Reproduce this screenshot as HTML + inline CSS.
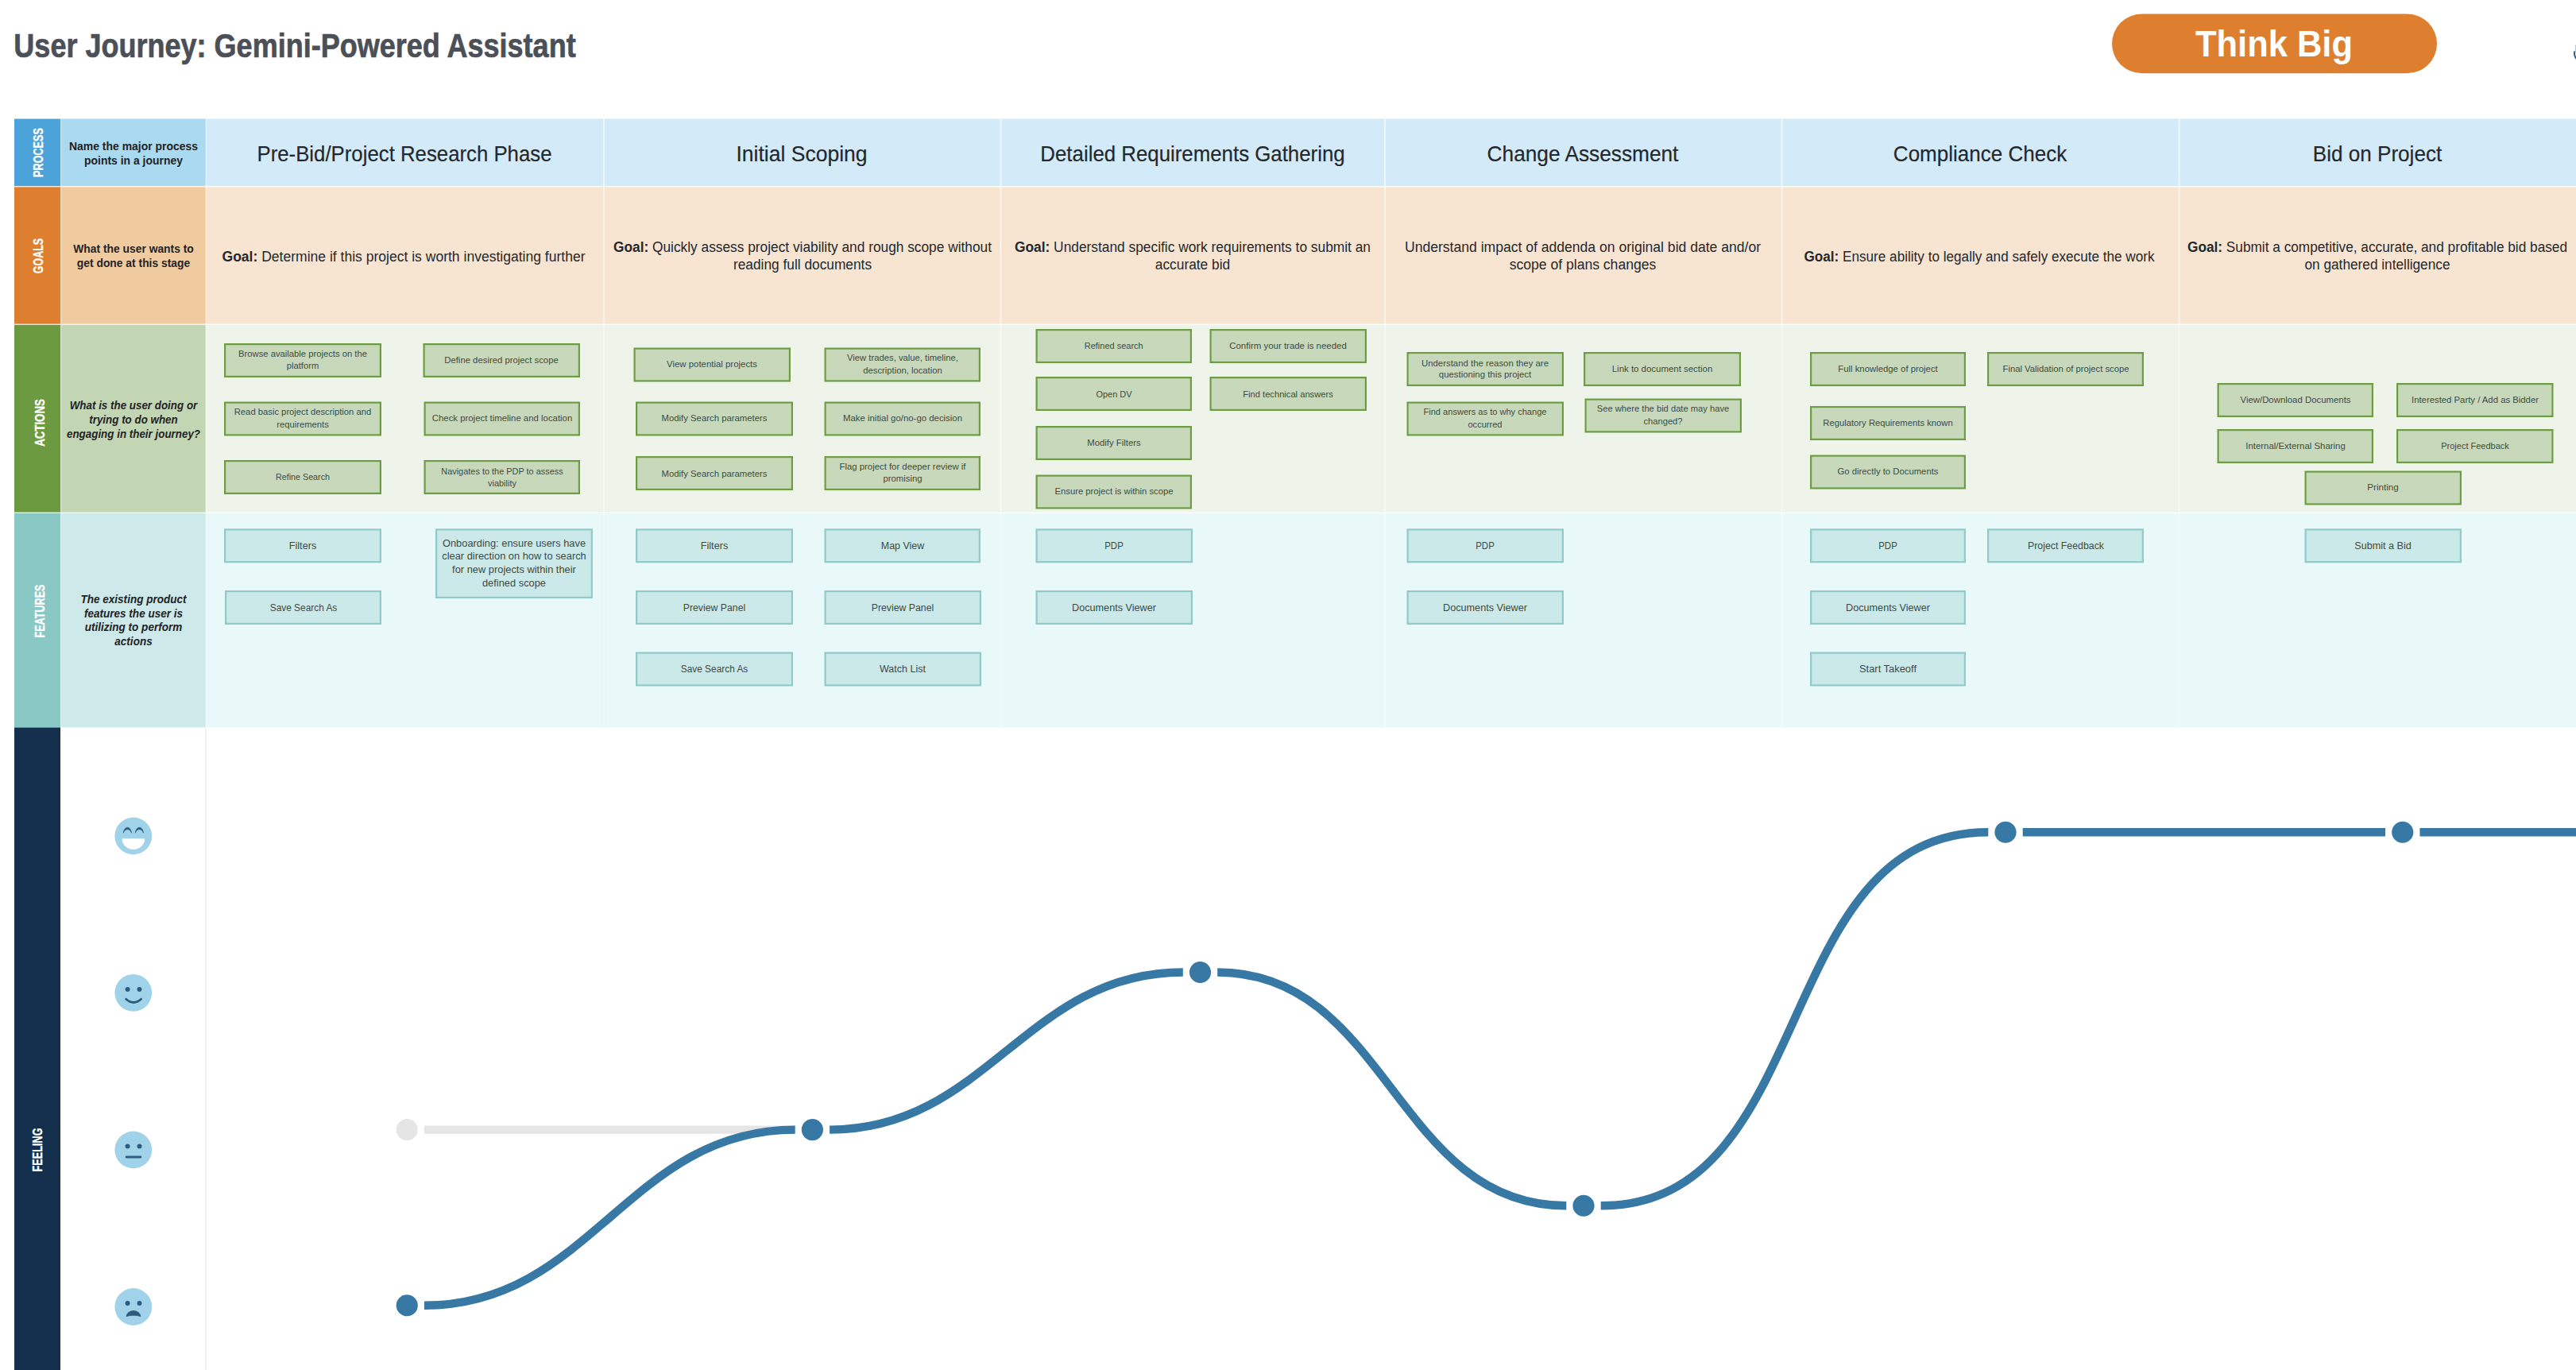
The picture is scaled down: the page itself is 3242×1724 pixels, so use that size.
<!DOCTYPE html>
<html lang="en"><head><meta charset="utf-8"><title>User Journey: Gemini-Powered Assistant</title>
<style>
html,body{margin:0;padding:0;background:#fff}
body{width:3242px;height:1724px;position:relative;overflow:hidden;font-family:"Liberation Sans",sans-serif;color:#222}
.t{position:absolute;white-space:nowrap;text-align:center;transform-origin:50% 50%;font-family:"Liberation Sans",sans-serif}
.t span{display:block}
.title{font-weight:700;color:#4B5058;-webkit-text-stroke:0.7px #4B5058}
.pill{font-weight:700;color:#fff}
.lab{font-weight:700;color:#fff;-webkit-text-stroke:0.35px #fff}
.desc{font-weight:700;color:#1f2326}
.it{font-style:italic}
.ph{color:#24282c;-webkit-text-stroke:0.2px #24282c}
.goal{color:#24282c}
.goal b{font-weight:700}
.bx{color:#3f4a44}
svg{position:absolute;left:0;top:0}
</style></head><body>

<svg width="3242" height="1724" viewBox="0 0 3242 1724">
<rect x="18" y="149.5" width="58" height="85" fill="#4BA3DA"/>
<rect x="76" y="149.5" width="183" height="85" fill="#AADAF0"/>
<rect x="259" y="149.5" width="2983" height="85" fill="#D3EBF8"/>
<rect x="18" y="234.5" width="58" height="173.5" fill="#DE7F30"/>
<rect x="76" y="234.5" width="183" height="173.5" fill="#F1CBA0"/>
<rect x="259" y="234.5" width="2983" height="173.5" fill="#F7E5D2"/>
<rect x="18" y="408" width="58" height="237" fill="#6B9A40"/>
<rect x="76" y="408" width="183" height="237" fill="#C3D6B3"/>
<rect x="259" y="408" width="2983" height="237" fill="#EFF4EB"/>
<rect x="18" y="645" width="58" height="270.5" fill="#8AC8C6"/>
<rect x="76" y="645" width="183" height="270.5" fill="#CDE9E9"/>
<rect x="259" y="645" width="2983" height="270.5" fill="#E9F9FA"/>
<rect x="18" y="915.5" width="58" height="808.5" fill="#132F4B"/>
<rect x="759" y="149.5" width="2" height="85" fill="#fff" fill-opacity="0.62"/>
<rect x="759" y="234.5" width="2" height="173.5" fill="#fff" fill-opacity="0.62"/>
<rect x="759" y="408" width="2" height="237" fill="#fff" fill-opacity="0.42"/>
<rect x="759" y="645" width="2" height="270.5" fill="#fff" fill-opacity="0.32"/>
<rect x="1258.5" y="149.5" width="2" height="85" fill="#fff" fill-opacity="0.62"/>
<rect x="1258.5" y="234.5" width="2" height="173.5" fill="#fff" fill-opacity="0.62"/>
<rect x="1258.5" y="408" width="2" height="237" fill="#fff" fill-opacity="0.42"/>
<rect x="1258.5" y="645" width="2" height="270.5" fill="#fff" fill-opacity="0.32"/>
<rect x="1742" y="149.5" width="2" height="85" fill="#fff" fill-opacity="0.62"/>
<rect x="1742" y="234.5" width="2" height="173.5" fill="#fff" fill-opacity="0.62"/>
<rect x="1742" y="408" width="2" height="237" fill="#fff" fill-opacity="0.42"/>
<rect x="1742" y="645" width="2" height="270.5" fill="#fff" fill-opacity="0.32"/>
<rect x="2241.5" y="149.5" width="2" height="85" fill="#fff" fill-opacity="0.62"/>
<rect x="2241.5" y="234.5" width="2" height="173.5" fill="#fff" fill-opacity="0.62"/>
<rect x="2241.5" y="408" width="2" height="237" fill="#fff" fill-opacity="0.42"/>
<rect x="2241.5" y="645" width="2" height="270.5" fill="#fff" fill-opacity="0.32"/>
<rect x="2741.5" y="149.5" width="2" height="85" fill="#fff" fill-opacity="0.62"/>
<rect x="2741.5" y="234.5" width="2" height="173.5" fill="#fff" fill-opacity="0.62"/>
<rect x="2741.5" y="408" width="2" height="237" fill="#fff" fill-opacity="0.42"/>
<rect x="2741.5" y="645" width="2" height="270.5" fill="#fff" fill-opacity="0.32"/>
<rect x="258.5" y="149.5" width="1.5" height="766" fill="#fff" fill-opacity=".5"/>
<rect x="76" y="149.5" width="1.3" height="766" fill="#fff" fill-opacity=".35"/>
<rect x="18" y="234" width="3224" height="1.5" fill="#fff" fill-opacity=".75"/>
<rect x="18" y="407.5" width="3224" height="1.5" fill="#fff" fill-opacity=".75"/>
<rect x="18" y="644.5" width="3224" height="1.5" fill="#fff" fill-opacity=".75"/>
<rect x="258" y="916.5" width="2" height="808.5" fill="#F1F1F1"/>
<rect x="2658" y="17.6" width="409" height="74.6" rx="37.3" fill="#DE7F30"/>
<rect x="283.1" y="433.1" width="195.8" height="40.8" fill="#C7D9BA" stroke="#6D9E43" stroke-width="2.2"/>
<rect x="533.6" y="433.1" width="195.3" height="40.8" fill="#C7D9BA" stroke="#6D9E43" stroke-width="2.2"/>
<rect x="283.1" y="506.6" width="195.8" height="40.8" fill="#C7D9BA" stroke="#6D9E43" stroke-width="2.2"/>
<rect x="534.6" y="506.6" width="194.3" height="40.8" fill="#C7D9BA" stroke="#6D9E43" stroke-width="2.2"/>
<rect x="283.1" y="580.1" width="195.8" height="40.8" fill="#C7D9BA" stroke="#6D9E43" stroke-width="2.2"/>
<rect x="534.6" y="580.1" width="194.3" height="40.8" fill="#C7D9BA" stroke="#6D9E43" stroke-width="2.2"/>
<rect x="798.6" y="438.6" width="195.3" height="40.8" fill="#C7D9BA" stroke="#6D9E43" stroke-width="2.2"/>
<rect x="1038.6" y="438.6" width="194.3" height="40.8" fill="#C7D9BA" stroke="#6D9E43" stroke-width="2.2"/>
<rect x="801.1" y="506.6" width="195.8" height="40.8" fill="#C7D9BA" stroke="#6D9E43" stroke-width="2.2"/>
<rect x="1038.6" y="506.6" width="194.3" height="40.8" fill="#C7D9BA" stroke="#6D9E43" stroke-width="2.2"/>
<rect x="801.1" y="575.1" width="195.8" height="40.8" fill="#C7D9BA" stroke="#6D9E43" stroke-width="2.2"/>
<rect x="1038.6" y="575.1" width="194.3" height="40.8" fill="#C7D9BA" stroke="#6D9E43" stroke-width="2.2"/>
<rect x="1304.6" y="415.1" width="194.3" height="40.8" fill="#C7D9BA" stroke="#6D9E43" stroke-width="2.2"/>
<rect x="1523.6" y="415.1" width="195.3" height="40.8" fill="#C7D9BA" stroke="#6D9E43" stroke-width="2.2"/>
<rect x="1304.6" y="475.1" width="194.3" height="40.8" fill="#C7D9BA" stroke="#6D9E43" stroke-width="2.2"/>
<rect x="1523.6" y="475.1" width="195.3" height="40.8" fill="#C7D9BA" stroke="#6D9E43" stroke-width="2.2"/>
<rect x="1304.6" y="537.1" width="194.3" height="40.8" fill="#C7D9BA" stroke="#6D9E43" stroke-width="2.2"/>
<rect x="1304.6" y="598.6" width="194.3" height="40.8" fill="#C7D9BA" stroke="#6D9E43" stroke-width="2.2"/>
<rect x="1771.6" y="444.1" width="195.3" height="40.8" fill="#C7D9BA" stroke="#6D9E43" stroke-width="2.2"/>
<rect x="1994.1" y="444.1" width="195.8" height="40.8" fill="#C7D9BA" stroke="#6D9E43" stroke-width="2.2"/>
<rect x="1771.6" y="506.6" width="195.3" height="40.8" fill="#C7D9BA" stroke="#6D9E43" stroke-width="2.2"/>
<rect x="1995.6" y="502.6" width="195.3" height="40.8" fill="#C7D9BA" stroke="#6D9E43" stroke-width="2.2"/>
<rect x="2279.1" y="444.1" width="193.8" height="40.8" fill="#C7D9BA" stroke="#6D9E43" stroke-width="2.2"/>
<rect x="2502.1" y="444.1" width="194.8" height="40.8" fill="#C7D9BA" stroke="#6D9E43" stroke-width="2.2"/>
<rect x="2279.1" y="512.1" width="193.8" height="40.8" fill="#C7D9BA" stroke="#6D9E43" stroke-width="2.2"/>
<rect x="2279.1" y="573.6" width="193.8" height="40.8" fill="#C7D9BA" stroke="#6D9E43" stroke-width="2.2"/>
<rect x="2791.6" y="483.1" width="194.3" height="40.8" fill="#C7D9BA" stroke="#6D9E43" stroke-width="2.2"/>
<rect x="3017.1" y="483.1" width="195.3" height="40.8" fill="#C7D9BA" stroke="#6D9E43" stroke-width="2.2"/>
<rect x="2791.6" y="541.1" width="194.3" height="40.8" fill="#C7D9BA" stroke="#6D9E43" stroke-width="2.2"/>
<rect x="3017.1" y="541.1" width="195.3" height="40.8" fill="#C7D9BA" stroke="#6D9E43" stroke-width="2.2"/>
<rect x="2901.6" y="593.6" width="195.3" height="40.8" fill="#C7D9BA" stroke="#6D9E43" stroke-width="2.2"/>
<rect x="283.1" y="666.4" width="195.8" height="40.8" fill="#CBE9E9" stroke="#8ECBC9" stroke-width="2.2"/>
<rect x="549.1" y="666.4" width="195.8" height="85.5" fill="#CBE9E9" stroke="#8ECBC9" stroke-width="2.2"/>
<rect x="284.1" y="744.1" width="194.8" height="40.8" fill="#CBE9E9" stroke="#8ECBC9" stroke-width="2.2"/>
<rect x="801.1" y="666.4" width="195.8" height="40.8" fill="#CBE9E9" stroke="#8ECBC9" stroke-width="2.2"/>
<rect x="1038.6" y="666.4" width="194.3" height="40.8" fill="#CBE9E9" stroke="#8ECBC9" stroke-width="2.2"/>
<rect x="801.1" y="744.1" width="195.8" height="40.8" fill="#CBE9E9" stroke="#8ECBC9" stroke-width="2.2"/>
<rect x="1038.6" y="744.1" width="195.3" height="40.8" fill="#CBE9E9" stroke="#8ECBC9" stroke-width="2.2"/>
<rect x="801.1" y="821.6" width="195.8" height="40.8" fill="#CBE9E9" stroke="#8ECBC9" stroke-width="2.2"/>
<rect x="1038.6" y="821.6" width="195.3" height="40.8" fill="#CBE9E9" stroke="#8ECBC9" stroke-width="2.2"/>
<rect x="1304.6" y="666.4" width="195.3" height="40.8" fill="#CBE9E9" stroke="#8ECBC9" stroke-width="2.2"/>
<rect x="1304.6" y="744.1" width="195.3" height="40.8" fill="#CBE9E9" stroke="#8ECBC9" stroke-width="2.2"/>
<rect x="1771.6" y="666.4" width="195.3" height="40.8" fill="#CBE9E9" stroke="#8ECBC9" stroke-width="2.2"/>
<rect x="1771.6" y="744.1" width="195.3" height="40.8" fill="#CBE9E9" stroke="#8ECBC9" stroke-width="2.2"/>
<rect x="2279.1" y="666.4" width="193.8" height="40.8" fill="#CBE9E9" stroke="#8ECBC9" stroke-width="2.2"/>
<rect x="2502.1" y="666.4" width="194.8" height="40.8" fill="#CBE9E9" stroke="#8ECBC9" stroke-width="2.2"/>
<rect x="2279.1" y="744.1" width="193.8" height="40.8" fill="#CBE9E9" stroke="#8ECBC9" stroke-width="2.2"/>
<rect x="2279.1" y="821.6" width="193.8" height="40.8" fill="#CBE9E9" stroke="#8ECBC9" stroke-width="2.2"/>
<rect x="2901.6" y="666.4" width="195.3" height="40.8" fill="#CBE9E9" stroke="#8ECBC9" stroke-width="2.2"/>
</svg>
<svg width="3242" height="1724" viewBox="0 0 3242 1724">
<path d="M533.95 1421.6 H1000.7" stroke="#E5E5E5" stroke-width="10.4" fill="none"/>
<circle cx="512.25" cy="1421.6" r="13.6" fill="#E5E5E5"/>
<path d="M533.95 1642.75 C743.6 1642.75 791.0 1421.6 1000.7 1421.6 M1044.1 1421.6 C1241.8 1421.6 1291.1 1223.5 1488.8 1223.5 M1532.2 1223.5 C1746.7 1223.5 1756.8 1517.25 1971.3 1517.25 M2014.7 1517.25 C2289.7 1517.25 2227.3 1047.25 2502.3 1047.25 M2545.7 1047.25 C2731.0 1047.25 2816.8 1047.25 3002.05 1047.25 M3045.45 1047.25 C3233.4 1047.25 3320.4 1047.25 3508.3 1047.25" stroke="#3878A5" stroke-width="10.4" fill="none"/>
<circle cx="512.25" cy="1642.75" r="13.6" fill="#3878A5"/>
<circle cx="1022.4" cy="1421.6" r="13.6" fill="#3878A5"/>
<circle cx="1510.5" cy="1223.5" r="13.6" fill="#3878A5"/>
<circle cx="1993" cy="1517.25" r="13.6" fill="#3878A5"/>
<circle cx="2524" cy="1047.25" r="13.6" fill="#3878A5"/>
<circle cx="3023.75" cy="1047.25" r="13.6" fill="#3878A5"/>
<circle cx="167.8" cy="1052" r="23.4" fill="#A0D2EA"/>
<path d="M153.5 1055.3 H182.2 A14.35 13.6 0 0 1 153.5 1055.3 Z" fill="#fff"/>
<path d="M155.3 1048.2 C156.3 1038.9 164.5 1038.9 165.5 1048.2 C163.7 1042.2 157.1 1042.2 155.3 1048.2 Z" fill="#2D5B7E" stroke="#2D5B7E" stroke-width="0.6" stroke-linejoin="round"/>
<path d="M170.3 1048.2 C171.3 1038.9 179.5 1038.9 180.5 1048.2 C178.7 1042.2 172.1 1042.2 170.3 1048.2 Z" fill="#2D5B7E" stroke="#2D5B7E" stroke-width="0.6" stroke-linejoin="round"/>
<circle cx="167.8" cy="1249.4" r="23.4" fill="#A0D2EA"/>
<circle cx="160.6" cy="1245" r="2.95" fill="#2D5B7E"/><circle cx="175.5" cy="1245" r="2.95" fill="#2D5B7E"/>
<path d="M158.6 1257.3 Q168.1 1265.6 177.6 1257.3" stroke="#2D5B7E" stroke-width="2.8" fill="none" stroke-linecap="round"/>
<circle cx="167.8" cy="1447" r="23.4" fill="#A0D2EA"/>
<circle cx="160.6" cy="1442.4" r="2.95" fill="#2D5B7E"/><circle cx="175.5" cy="1442.4" r="2.95" fill="#2D5B7E"/>
<path d="M159.2 1456 H176.8" stroke="#2D5B7E" stroke-width="2.9" fill="none" stroke-linecap="round"/>
<circle cx="167.8" cy="1644.5" r="23.4" fill="#A0D2EA"/>
<circle cx="160.6" cy="1640" r="2.95" fill="#2D5B7E"/><circle cx="175.5" cy="1640" r="2.95" fill="#2D5B7E"/>
<path d="M159 1656.6 C160.5 1647.2 175.5 1647.2 177 1656.6 C172 1654.8 164 1654.8 159 1656.6 Z" fill="#2D5B7E" stroke="#2D5B7E" stroke-width="0.8" stroke-linejoin="round"/>
<rect x="3241" y="57" width="1.2" height="9" fill="#A3CDE6"/>
<path d="M3240 64.5 Q3239.6 70.5 3242.6 74.2" stroke="#2F6088" stroke-width="2" fill="none"/>
</svg>
<div class="t title" id="t0" style="left:371.3px;top:57.6px;font-size:42.6px;line-height:51.12px;transform:translate(-50%,-50%) scaleX(0.8457)"><span>User Journey: Gemini-Powered Assistant</span></div>
<div class="t pill" id="t1" style="left:2862.2px;top:56px;font-size:46.3px;line-height:55.56px;transform:translate(-50%,-50%) scaleX(0.9389)"><span>Think Big</span></div>
<div class="t lab" id="t2" style="left:48.7px;top:192.2px;font-size:17px;line-height:20.4px;transform:translate(-50%,-50%) rotate(-90deg) scaleX(0.7445)"><span>PROCESS</span></div>
<div class="t lab" id="t3" style="left:48.7px;top:321.5px;font-size:17px;line-height:20.4px;transform:translate(-50%,-50%) rotate(-90deg) scaleX(0.7345)"><span>GOALS</span></div>
<div class="t lab" id="t4" style="left:50.9px;top:532.4px;font-size:17px;line-height:20.4px;transform:translate(-50%,-50%) rotate(-90deg) scaleX(0.7804)"><span>ACTIONS</span></div>
<div class="t lab" id="t5" style="left:50.9px;top:768.9px;font-size:17px;line-height:20.4px;transform:translate(-50%,-50%) rotate(-90deg) scaleX(0.7415)"><span>FEATURES</span></div>
<div class="t lab lab2" id="t6" style="left:47.3px;top:1446.9px;font-size:17.3px;line-height:20.76px;transform:translate(-50%,-50%) rotate(-90deg) scaleX(0.7371)"><span>FEELING</span></div>
<div class="t desc" id="t7" style="left:167.6px;top:192.7px;font-size:14.6px;line-height:18.1px;transform:translate(-50%,-50%) scaleX(0.9556)"><span>Name the major process</span><span>points in a journey</span></div>
<div class="t desc" id="t8" style="left:167.6px;top:321.9px;font-size:14.6px;line-height:18.3px;transform:translate(-50%,-50%) scaleX(0.9491)"><span>What the user wants to</span><span>get done at this stage</span></div>
<div class="t desc it" id="t9" style="left:167.6px;top:528.3px;font-size:15.3px;line-height:17.7px;transform:translate(-50%,-50%) scaleX(0.8746)"><span>What is the user doing or</span><span>trying to do when</span><span>engaging in their journey?</span></div>
<div class="t desc it" id="t10" style="left:167.6px;top:780.9px;font-size:15.3px;line-height:17.8px;transform:translate(-50%,-50%) scaleX(0.8841)"><span>The existing product</span><span>features the user is</span><span>utilizing to perform</span><span>actions</span></div>
<div class="t ph" id="t11" style="left:509px;top:194.4px;font-size:27.4px;line-height:32.88px;transform:translate(-50%,-50%) scaleX(0.9409)"><span>Pre-Bid/Project Research Phase</span></div>
<div class="t ph" id="t12" style="left:1009px;top:194.4px;font-size:27.4px;line-height:32.88px;transform:translate(-50%,-50%) scaleX(0.9675)"><span>Initial Scoping</span></div>
<div class="t ph" id="t13" style="left:1501px;top:194.4px;font-size:27.4px;line-height:32.88px;transform:translate(-50%,-50%) scaleX(0.9429)"><span>Detailed Requirements Gathering</span></div>
<div class="t ph" id="t14" style="left:1991.7px;top:194.4px;font-size:27.4px;line-height:32.88px;transform:translate(-50%,-50%) scaleX(0.9585)"><span>Change Assessment</span></div>
<div class="t ph" id="t15" style="left:2491.9px;top:194.4px;font-size:27.4px;line-height:32.88px;transform:translate(-50%,-50%) scaleX(0.9496)"><span>Compliance Check</span></div>
<div class="t ph" id="t16" style="left:2991.5px;top:194.4px;font-size:27.4px;line-height:32.88px;transform:translate(-50%,-50%) scaleX(0.9523)"><span>Bid on Project</span></div>
<div class="t goal" id="t17" style="left:508.3px;top:322.6px;font-size:17.6px;line-height:22.2px;transform:translate(-50%,-50%) scaleX(0.9965)"><span><b>Goal:</b> Determine if this project is worth investigating further</span></div>
<div class="t goal" id="t18" style="left:1009.75px;top:322.2px;font-size:17.6px;line-height:22.2px;transform:translate(-50%,-50%) scaleX(0.9833)"><span><b>Goal:</b> Quickly assess project viability and rough scope without</span><span>reading full documents</span></div>
<div class="t goal" id="t19" style="left:1501.25px;top:322.2px;font-size:17.6px;line-height:22.2px;transform:translate(-50%,-50%) scaleX(0.9853)"><span><b>Goal:</b> Understand specific work requirements to submit an</span><span>accurate bid</span></div>
<div class="t goal" id="t20" style="left:1991.95px;top:322.2px;font-size:17.6px;line-height:22.2px;transform:translate(-50%,-50%) scaleX(0.9979)"><span>Understand impact of addenda on original bid date and/or</span><span>scope of plans changes</span></div>
<div class="t goal" id="t21" style="left:2491.3px;top:322.6px;font-size:17.6px;line-height:22.2px;transform:translate(-50%,-50%) scaleX(0.9740)"><span><b>Goal:</b> Ensure ability to legally and safely execute the work</span></div>
<div class="t goal" id="t22" style="left:2992.25px;top:322.2px;font-size:17.6px;line-height:22.2px;transform:translate(-50%,-50%) scaleX(0.9795)"><span><b>Goal:</b> Submit a competitive, accurate, and profitable bid based</span><span>on gathered intelligence</span></div>
<div class="t bx" id="t23" style="left:381px;top:452.3px;font-size:11px;line-height:14.3px;transform:translate(-50%,-50%) scaleX(1.0229)"><span>Browse available projects on the</span><span>platform</span></div>
<div class="t bx" id="t24" style="left:631.25px;top:452.9px;font-size:11px;line-height:15px;transform:translate(-50%,-50%) scaleX(1.0293)"><span>Define desired project scope</span></div>
<div class="t bx" id="t25" style="left:381px;top:527.1px;font-size:11px;line-height:15.8px;transform:translate(-50%,-50%) scaleX(1.0221)"><span>Read basic project description and</span><span>requirements</span></div>
<div class="t bx" id="t26" style="left:631.75px;top:526.4px;font-size:11px;line-height:15px;transform:translate(-50%,-50%) scaleX(1.0346)"><span>Check project timeline and location</span></div>
<div class="t bx" id="t27" style="left:381px;top:600.2px;font-size:11px;line-height:15px;transform:translate(-50%,-50%) scaleX(0.9753)"><span>Refine Search</span></div>
<div class="t bx" id="t28" style="left:631.75px;top:600.3px;font-size:11px;line-height:14.5px;transform:translate(-50%,-50%) scaleX(0.9935)"><span>Navigates to the PDP to assess</span><span>viability</span></div>
<div class="t bx" id="t29" style="left:896.25px;top:458.4px;font-size:11px;line-height:15px;transform:translate(-50%,-50%) scaleX(1.0375)"><span>View potential projects</span></div>
<div class="t bx" id="t30" style="left:1135.75px;top:458.4px;font-size:11px;line-height:15.5px;transform:translate(-50%,-50%) scaleX(1.0236)"><span>View trades, value, timeline,</span><span>description, location</span></div>
<div class="t bx" id="t31" style="left:899px;top:526.4px;font-size:11px;line-height:15px;transform:translate(-50%,-50%) scaleX(1.0310)"><span>Modify Search parameters</span></div>
<div class="t bx" id="t32" style="left:1135.75px;top:526.4px;font-size:11px;line-height:15px;transform:translate(-50%,-50%) scaleX(1.0350)"><span>Make initial go/no-go decision</span></div>
<div class="t bx" id="t33" style="left:899px;top:596.3px;font-size:11px;line-height:15px;transform:translate(-50%,-50%) scaleX(1.0310)"><span>Modify Search parameters</span></div>
<div class="t bx" id="t34" style="left:1135.75px;top:594.9px;font-size:11px;line-height:15.5px;transform:translate(-50%,-50%) scaleX(1.0319)"><span>Flag project for deeper review if</span><span>promising</span></div>
<div class="t bx" id="t35" style="left:1401.75px;top:434.9px;font-size:11px;line-height:15px;transform:translate(-50%,-50%)"><span>Refined search</span></div>
<div class="t bx" id="t36" style="left:1621.25px;top:434.9px;font-size:11px;line-height:15px;transform:translate(-50%,-50%) scaleX(1.0398)"><span>Confirm your trade is needed</span></div>
<div class="t bx" id="t37" style="left:1401.75px;top:496.3px;font-size:11px;line-height:15px;transform:translate(-50%,-50%) scaleX(0.9945)"><span>Open DV</span></div>
<div class="t bx" id="t38" style="left:1621.25px;top:496.3px;font-size:11px;line-height:15px;transform:translate(-50%,-50%) scaleX(1.0144)"><span>Find technical answers</span></div>
<div class="t bx" id="t39" style="left:1401.75px;top:556.9px;font-size:11px;line-height:15px;transform:translate(-50%,-50%) scaleX(1.0320)"><span>Modify Filters</span></div>
<div class="t bx" id="t40" style="left:1401.75px;top:618.4px;font-size:11px;line-height:15px;transform:translate(-50%,-50%) scaleX(1.0239)"><span>Ensure project is within scope</span></div>
<div class="t bx" id="t41" style="left:1869.25px;top:463.9px;font-size:11px;line-height:14.5px;transform:translate(-50%,-50%) scaleX(1.0341)"><span>Understand the reason they are</span><span>questioning this project</span></div>
<div class="t bx" id="t42" style="left:2092px;top:463.9px;font-size:11px;line-height:15px;transform:translate(-50%,-50%) scaleX(1.0395)"><span>Link to document section</span></div>
<div class="t bx" id="t43" style="left:1869.25px;top:526.4px;font-size:11px;line-height:15.5px;transform:translate(-50%,-50%) scaleX(1.0059)"><span>Find answers as to why change</span><span>occurred</span></div>
<div class="t bx" id="t44" style="left:2093.25px;top:522.4px;font-size:11px;line-height:15.5px;transform:translate(-50%,-50%) scaleX(1.0159)"><span>See where the bid date may have</span><span>changed?</span></div>
<div class="t bx" id="t45" style="left:2376px;top:463.9px;font-size:11px;line-height:15px;transform:translate(-50%,-50%) scaleX(1.0313)"><span>Full knowledge of project</span></div>
<div class="t bx" id="t46" style="left:2599.5px;top:463.9px;font-size:11px;line-height:15px;transform:translate(-50%,-50%) scaleX(1.0251)"><span>Final Validation of project scope</span></div>
<div class="t bx" id="t47" style="left:2376px;top:531.9px;font-size:11px;line-height:15px;transform:translate(-50%,-50%) scaleX(1.0245)"><span>Regulatory Requirements known</span></div>
<div class="t bx" id="t48" style="left:2376px;top:593.4px;font-size:11px;line-height:15px;transform:translate(-50%,-50%) scaleX(1.0283)"><span>Go directly to Documents</span></div>
<div class="t bx" id="t49" style="left:2888.75px;top:502.9px;font-size:11px;line-height:15px;transform:translate(-50%,-50%) scaleX(1.0349)"><span>View/Download Documents</span></div>
<div class="t bx" id="t50" style="left:3114.75px;top:502.9px;font-size:11px;line-height:15px;transform:translate(-50%,-50%) scaleX(1.0302)"><span>Interested Party / Add as Bidder</span></div>
<div class="t bx" id="t51" style="left:2888.75px;top:560.9px;font-size:11px;line-height:15px;transform:translate(-50%,-50%) scaleX(1.0365)"><span>Internal/External Sharing</span></div>
<div class="t bx" id="t52" style="left:3114.75px;top:560.9px;font-size:11px;line-height:15px;transform:translate(-50%,-50%) scaleX(0.9987)"><span>Project Feedback</span></div>
<div class="t bx" id="t53" style="left:2999.25px;top:613.4px;font-size:11px;line-height:15px;transform:translate(-50%,-50%) scaleX(1.0591)"><span>Printing</span></div>
<div class="t bx" id="t54" style="left:381px;top:686.8px;font-size:12.5px;line-height:16.7px;transform:translate(-50%,-50%) scaleX(1.0138)"><span>Filters</span></div>
<div class="t bx" id="t55" style="left:647px;top:708.65px;font-size:12.5px;line-height:16.7px;transform:translate(-50%,-50%) scaleX(1.0284)"><span>Onboarding: ensure users have</span><span>clear direction on how to search</span><span>for new projects within their</span><span>defined scope</span></div>
<div class="t bx" id="t56" style="left:381.5px;top:765px;font-size:12.5px;line-height:16.7px;transform:translate(-50%,-50%) scaleX(0.9499)"><span>Save Search As</span></div>
<div class="t bx" id="t57" style="left:899px;top:686.8px;font-size:12.5px;line-height:16.7px;transform:translate(-50%,-50%) scaleX(1.0138)"><span>Filters</span></div>
<div class="t bx" id="t58" style="left:1135.75px;top:686.8px;font-size:12.5px;line-height:16.7px;transform:translate(-50%,-50%) scaleX(0.9969)"><span>Map View</span></div>
<div class="t bx" id="t59" style="left:899px;top:765px;font-size:12.5px;line-height:16.7px;transform:translate(-50%,-50%) scaleX(0.9824)"><span>Preview Panel</span></div>
<div class="t bx" id="t60" style="left:1136.25px;top:765px;font-size:12.5px;line-height:16.7px;transform:translate(-50%,-50%) scaleX(0.9824)"><span>Preview Panel</span></div>
<div class="t bx" id="t61" style="left:899px;top:842px;font-size:12.5px;line-height:16.7px;transform:translate(-50%,-50%) scaleX(0.9499)"><span>Save Search As</span></div>
<div class="t bx" id="t62" style="left:1136.25px;top:842px;font-size:12.5px;line-height:16.7px;transform:translate(-50%,-50%) scaleX(1.0019)"><span>Watch List</span></div>
<div class="t bx" id="t63" style="left:1402.25px;top:686.8px;font-size:12.5px;line-height:16.7px;transform:translate(-50%,-50%) scaleX(0.9143)"><span>PDP</span></div>
<div class="t bx" id="t64" style="left:1402.25px;top:765px;font-size:12.5px;line-height:16.7px;transform:translate(-50%,-50%) scaleX(1.0125)"><span>Documents Viewer</span></div>
<div class="t bx" id="t65" style="left:1869.25px;top:686.8px;font-size:12.5px;line-height:16.7px;transform:translate(-50%,-50%) scaleX(0.9143)"><span>PDP</span></div>
<div class="t bx" id="t66" style="left:1869.25px;top:765px;font-size:12.5px;line-height:16.7px;transform:translate(-50%,-50%) scaleX(1.0125)"><span>Documents Viewer</span></div>
<div class="t bx" id="t67" style="left:2376px;top:686.8px;font-size:12.5px;line-height:16.7px;transform:translate(-50%,-50%) scaleX(0.9143)"><span>PDP</span></div>
<div class="t bx" id="t68" style="left:2599.5px;top:686.8px;font-size:12.5px;line-height:16.7px;transform:translate(-50%,-50%) scaleX(0.9868)"><span>Project Feedback</span></div>
<div class="t bx" id="t69" style="left:2376px;top:765px;font-size:12.5px;line-height:16.7px;transform:translate(-50%,-50%) scaleX(1.0125)"><span>Documents Viewer</span></div>
<div class="t bx" id="t70" style="left:2376px;top:842px;font-size:12.5px;line-height:16.7px;transform:translate(-50%,-50%) scaleX(1.0325)"><span>Start Takeoff</span></div>
<div class="t bx" id="t71" style="left:2999.25px;top:686.8px;font-size:12.5px;line-height:16.7px;transform:translate(-50%,-50%) scaleX(1.0088)"><span>Submit a Bid</span></div>
</body></html>
